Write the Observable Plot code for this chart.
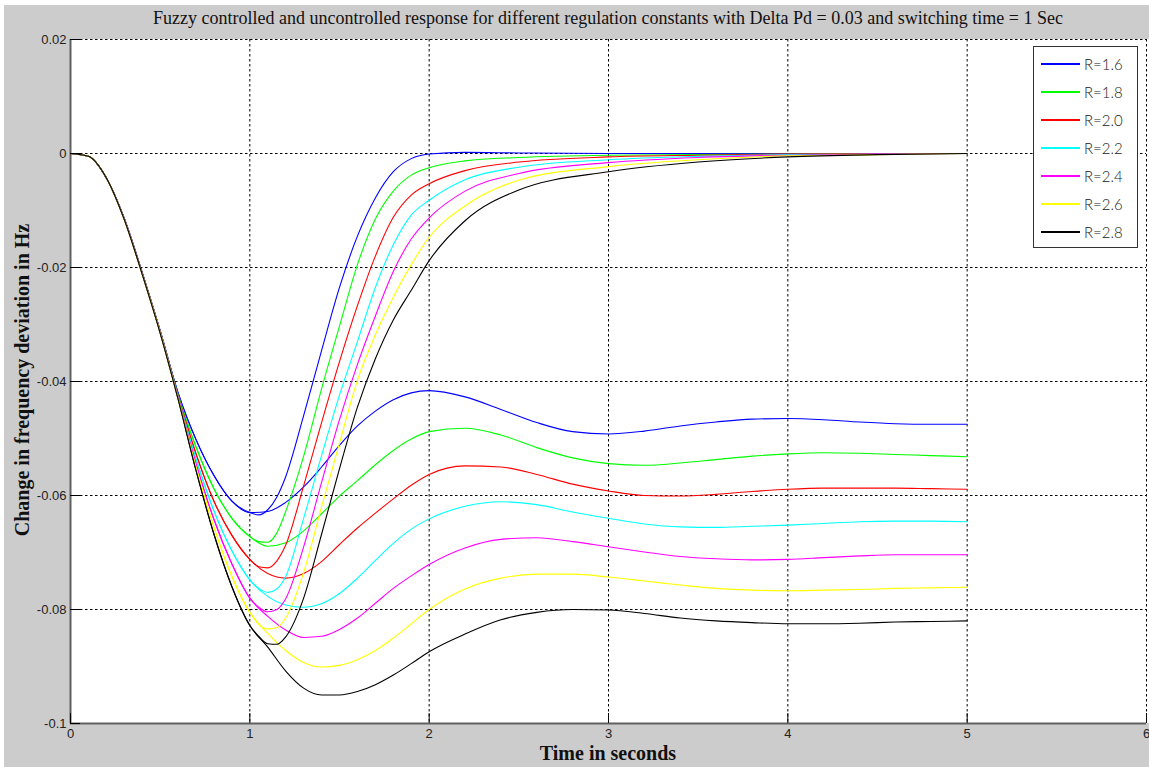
<!DOCTYPE html>
<html>
<head>
<meta charset="utf-8">
<script src="https://cdn.jsdelivr.net/npm/d3@7"></script>
<script src="https://cdn.jsdelivr.net/npm/@observablehq/plot@0.6"></script>
<style>
  body { margin: 0; background: #fff; }
  #fig { position: relative; width: 1149px; height: 767px; background: #fff; overflow: hidden; }
  #gray { position: absolute; left: 4px; top: 5px; right: 0; bottom: 0; background: #cccccc; }
  #plotbg { position: absolute; left: 70px; top: 39px; width: 1079px; height: 684px; background: #fff; }
  #chart { position: absolute; left: 0; top: 0; }
  #title { position: absolute; left: 70px; width: 1076px; top: 8px; text-align: center;
           font-family: "Liberation Serif", "Times New Roman", serif; font-size: 18px; color: #111; white-space: nowrap; }
  #xlabel { position: absolute; left: 70px; width: 1076px; top: 742px; text-align: center;
            font-family: "Liberation Serif", "Times New Roman", serif; font-size: 20px; font-weight: bold; color: #111; }
  #ylabel { position: absolute; left: 22px; top: 380px; transform: translate(-50%, -50%) rotate(-90deg);
            font-family: "Liberation Serif", "Times New Roman", serif; font-size: 20px; font-weight: bold; color: #111; white-space: nowrap; }
  #legend { position: absolute; left: 1033px; top: 46px; width: 105px; height: 202px; background: #fff;
            border: 1px solid #333; box-sizing: border-box; }
  .lrow { position: absolute; left: 0; height: 20px; width: 100%; }
  .lsw { position: absolute; left: 7px; width: 39px; top: 9px; height: 2px; }
  .ltx { position: absolute; left: 50px; top: 0; line-height: 20px; font-family: Lato, "Open Sans", sans-serif;
         font-weight: 300; font-size: 15px; color: #222; }
</style>
</head>
<body>
<div id="fig">
  <div id="gray"></div>
  <div id="plotbg"></div>
  <div id="chart"></div>
  <div id="title">Fuzzy controlled and uncontrolled response for different regulation constants with Delta Pd = 0.03 and switching time = 1 Sec</div>
  <div id="xlabel">Time in seconds</div>
  <div id="ylabel">Change in frequency deviation in Hz</div>
  <div id="legend"></div>
</div>
<script>
const rLabels = ["R=1.6", "R=1.8", "R=2.0", "R=2.2", "R=2.4", "R=2.6", "R=2.8"];
const colors = ["#0000ff", "#00ff00", "#ff0000", "#00ffff", "#ff00ff", "#ffff00", "#000000"];
const xTicks = [0, 1, 2, 3, 4, 5, 6];
const yTicks = [-0.1, -0.08, -0.06, -0.04, -0.02, 0, 0.02];

// Before switching (t < 1 s): both responses coincide
const tPre = [0, 0.1, 0.2, 0.3, 0.4, 0.5, 0.6, 0.7, 0.8, 0.9];
const preSwitch = [
  [0, -0.0005, -0.0043, -0.0114, -0.0209, -0.0311, -0.0420, -0.0502, -0.0565, -0.0610],
  [0, -0.0005, -0.0043, -0.0115, -0.0210, -0.0312, -0.0423, -0.0515, -0.0588, -0.0640],
  [0, -0.0005, -0.0043, -0.0115, -0.0210, -0.0312, -0.0425, -0.0527, -0.0610, -0.0670],
  [0, -0.0005, -0.0043, -0.0115, -0.0211, -0.0313, -0.0427, -0.0536, -0.0627, -0.0697],
  [0, -0.0005, -0.0043, -0.0115, -0.0211, -0.0313, -0.0428, -0.0544, -0.0642, -0.0720],
  [0, -0.0005, -0.0043, -0.0116, -0.0212, -0.0314, -0.0430, -0.0550, -0.0656, -0.0742],
  [0, -0.0005, -0.0043, -0.0116, -0.0212, -0.0315, -0.0431, -0.0556, -0.0668, -0.0760]
];

// Fuzzy controlled response after switching
const tFuzzy = [1.0, 1.05, 1.1, 1.15, 1.2, 1.3, 1.4, 1.5, 1.6, 1.7, 1.8, 1.9, 2.0, 2.2, 2.5, 3.0, 3.5, 4.0, 4.5, 5.0];
const fuzzy = [
  [-0.0630, -0.0634, -0.0625, -0.0603, -0.0567, -0.0460, -0.0346, -0.0235, -0.0145, -0.0078, -0.0032, -0.0009, -0.0001, 0.0002, 0.0001, 0, 0, 0, 0, 0],
  [-0.0672, -0.0681, -0.0682, -0.0666, -0.0628, -0.0531, -0.0413, -0.0303, -0.0195, -0.0115, -0.0066, -0.0038, -0.0025, -0.0013, -0.0007, -0.0003, -0.0002, -0.0001, 0, 0],
  [-0.0712, -0.0725, -0.0727, -0.0715, -0.0687, -0.0583, -0.0472, -0.0365, -0.0267, -0.0180, -0.0112, -0.0073, -0.0053, -0.0030, -0.0015, -0.0006, -0.0003, -0.0001, 0, 0],
  [-0.0748, -0.0763, -0.0770, -0.0764, -0.0742, -0.0640, -0.0530, -0.0424, -0.0330, -0.0235, -0.0160, -0.0108, -0.0082, -0.0046, -0.0024, -0.0011, -0.0005, -0.0002, -0.0001, 0],
  [-0.0780, -0.0796, -0.0804, -0.0800, -0.0781, -0.0690, -0.0577, -0.0467, -0.0370, -0.0285, -0.0207, -0.0150, -0.0113, -0.0066, -0.0035, -0.0016, -0.0007, -0.0003, -0.0001, 0],
  [-0.0805, -0.0826, -0.0834, -0.0832, -0.0815, -0.0735, -0.0620, -0.0508, -0.0398, -0.0318, -0.0252, -0.0195, -0.0147, -0.0092, -0.0047, -0.0023, -0.0011, -0.0004, -0.0002, 0],
  [-0.0828, -0.0847, -0.0860, -0.0861, -0.0848, -0.0780, -0.0668, -0.0553, -0.0445, -0.0360, -0.0292, -0.0240, -0.0188, -0.0118, -0.0064, -0.0032, -0.0015, -0.0006, -0.0002, 0]
];

// Uncontrolled response after switching time
const tFree = [1.0, 1.1, 1.2, 1.3, 1.4, 1.5, 1.6, 1.7, 1.8, 1.9, 2.0, 2.2, 2.4, 2.6, 2.8, 3.0, 3.2, 3.4, 3.6, 3.8, 4.0, 4.2, 4.4, 4.6, 4.8, 5.0];
const uncontrolled = [
  [-0.0630, -0.0628, -0.0612, -0.0585, -0.0550, -0.0512, -0.0478, -0.0452, -0.0432, -0.0420, -0.0416, -0.0427, -0.0449, -0.0472, -0.0488, -0.0492, -0.0487, -0.0478, -0.0471, -0.0466, -0.0465, -0.0467, -0.0471, -0.0474, -0.0475, -0.0475],
  [-0.0672, -0.0689, -0.0683, -0.0662, -0.0632, -0.0601, -0.0574, -0.0546, -0.0521, -0.0501, -0.0488, -0.0482, -0.0494, -0.0516, -0.0534, -0.0544, -0.0547, -0.0543, -0.0537, -0.0531, -0.0527, -0.0525, -0.0526, -0.0528, -0.0530, -0.0532],
  [-0.0712, -0.0737, -0.0745, -0.0737, -0.0716, -0.0686, -0.0657, -0.0631, -0.0606, -0.0582, -0.0563, -0.0548, -0.0550, -0.0563, -0.0580, -0.0592, -0.0600, -0.0601, -0.0598, -0.0593, -0.0589, -0.0587, -0.0587, -0.0587, -0.0588, -0.0589],
  [-0.0748, -0.0777, -0.0792, -0.0796, -0.0790, -0.0772, -0.0745, -0.0714, -0.0684, -0.0659, -0.0641, -0.0619, -0.0611, -0.0616, -0.0629, -0.0640, -0.0650, -0.0655, -0.0656, -0.0654, -0.0652, -0.0649, -0.0646, -0.0645, -0.0645, -0.0646],
  [-0.0780, -0.0812, -0.0836, -0.0849, -0.0847, -0.0835, -0.0815, -0.0789, -0.0763, -0.0741, -0.0721, -0.0692, -0.0677, -0.0674, -0.0681, -0.0690, -0.0699, -0.0707, -0.0711, -0.0713, -0.0712, -0.0709, -0.0706, -0.0704, -0.0704, -0.0704],
  [-0.0805, -0.0842, -0.0872, -0.0893, -0.0901, -0.0898, -0.0888, -0.0872, -0.0850, -0.0825, -0.0800, -0.0764, -0.0745, -0.0738, -0.0738, -0.0743, -0.0750, -0.0757, -0.0763, -0.0766, -0.0767, -0.0766, -0.0765, -0.0763, -0.0762, -0.0761],
  [-0.0828, -0.0866, -0.0908, -0.0938, -0.0950, -0.0950, -0.0944, -0.0932, -0.0915, -0.0895, -0.0874, -0.0843, -0.0818, -0.0805, -0.0800, -0.0801, -0.0807, -0.0815, -0.0820, -0.0823, -0.0825, -0.0825, -0.0824, -0.0822, -0.0821, -0.0820]
];

function series(i, times, vals) {
  const pre = tPre.map((t, j) => ({t, v: preSwitch[i][j]}));
  return pre.concat(times.map((t, j) => ({t, v: vals[i][j]})));
}

const lineMarks = [];
rLabels.forEach((_, i) => {
  lineMarks.push(Plot.line(series(i, tFree, uncontrolled), {x: "t", y: "v", stroke: colors[i], strokeWidth: 1.1, curve: "monotone-x"}));
});
rLabels.forEach((_, i) => {
  lineMarks.push(Plot.line(series(i, tFuzzy, fuzzy), {x: "t", y: "v", stroke: colors[i], strokeWidth: 1.1, curve: "monotone-x"}));
});

const fmt = d => String(+(+d).toFixed(2));

const chart = Plot.plot({
  width: 1149,
  height: 767,
  marginLeft: 70,
  marginRight: 3,
  marginTop: 39,
  marginBottom: 44,
  style: {background: "transparent", fontFamily: "'Liberation Sans', Arial, sans-serif", fontSize: "13px", color: "#222"},
  x: {domain: [0, 6], label: null},
  y: {domain: [-0.1, 0.02], label: null},
  marks: [
    Plot.gridX(xTicks.slice(1), {stroke: "#000", strokeOpacity: 1, strokeWidth: 1, strokeDasharray: "2.5,2.5"}),
    Plot.gridY(yTicks.slice(1), {stroke: "#000", strokeOpacity: 1, strokeWidth: 1, strokeDasharray: "2.5,2.5"}),
    ...lineMarks,
    Plot.ruleY([yTicks[0]], {stroke: "#606060", strokeWidth: 2}),
    Plot.ruleX([xTicks[0]], {stroke: "#606060", strokeWidth: 2}),
    Plot.axisX(xTicks, {label: null, tickSize: -10, tickPadding: 15, tickFormat: fmt, stroke: "#000", fill: "#222", fontSize: 13}),
    Plot.axisY(yTicks, {label: null, tickSize: -10, tickPadding: 14, tickFormat: fmt, stroke: "#000", fill: "#222", fontSize: 13})
  ]
});
document.getElementById("chart").appendChild(chart);

const legend = document.getElementById("legend");
rLabels.forEach((lab, i) => {
  const row = document.createElement("div");
  row.className = "lrow";
  row.style.top = (7 + i * 28) + "px";
  const sw = document.createElement("div");
  sw.className = "lsw";
  sw.style.background = colors[i];
  const tx = document.createElement("div");
  tx.className = "ltx";
  tx.textContent = lab;
  row.appendChild(sw);
  row.appendChild(tx);
  legend.appendChild(row);
});
</script>
</body>
</html>
